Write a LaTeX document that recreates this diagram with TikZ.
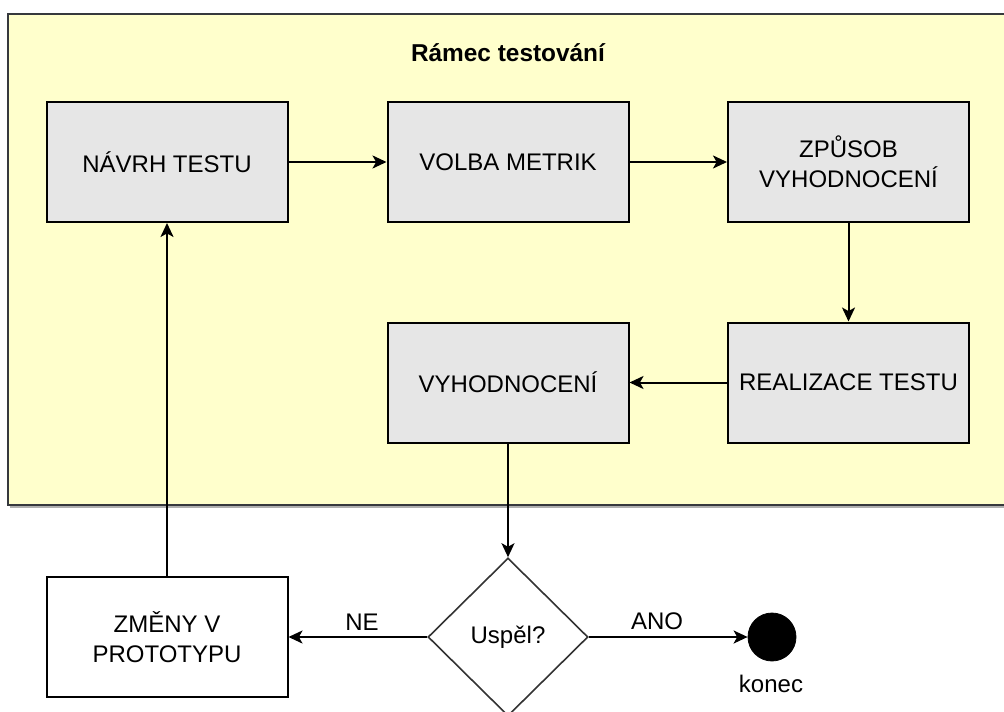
\documentclass[tikz,border=0pt]{standalone}
\usepackage{fontspec}
\setmainfont{Liberation Sans}
\usetikzlibrary{arrows.meta,shapes.geometric}

\definecolor{framefill}{HTML}{FFFFCC}
\definecolor{frameline}{HTML}{36393D}
\definecolor{boxfill}{HTML}{E6E6E6}
\definecolor{shadowgray}{HTML}{B0B0B0}

\tikzset{
  lbl/.style={font=\fontsize{12}{15}\selectfont, text=black, inner sep=0pt},
  procbox/.style={lbl, draw=black, line width=1pt, fill=boxfill,
    minimum width=120.5pt, minimum height=60pt, align=center},
  whitebox/.style={procbox, fill=white},
  decision/.style={lbl, draw=black!80, line width=0.8pt, fill=white, shape=diamond,
    aspect=1, minimum width=80pt, minimum height=79pt},
  endpoint/.style={circle, fill=black, draw=black, minimum size=24pt, inner sep=0pt},
  arr/.style={draw=black, line width=1pt, -{Stealth[length=7pt,width=6.5pt,inset=1.8pt]}}
}

\begin{document}
\begin{tikzpicture}[x=0.5pt, y=-0.5pt]
\useasboundingbox (0,0) rectangle (1004,711);

% testing frame (runs off the right edge) with a soft drop shadow
\fill[shadowgray] (10,16) rectangle (1012,508);
\draw[fill=framefill, draw=frameline, line width=1.1pt] (8,14) rectangle (1010,505);
\node[lbl, font=\fontsize{12.2}{15}\selectfont\bfseries] (title) at (508,53) {Rámec testování};

% process steps inside the frame
\node[procbox] (navrh)  at (167,162)   {NÁVRH TESTU};
\node[procbox] (volba)  at (508,162)   {VOLBA METRIK};
\node[procbox] (zpusob) at (848.5,162) {ZPŮSOB\\VYHODNOCENÍ};
\node[procbox] (realiz) at (848.5,382.5) {REALIZACE TESTU};
\node[procbox] (vyhod)  at (508,382.5) {VYHODNOCENÍ};

% outside the frame
\node[whitebox] (zmeny) at (167,637) {ZMĚNY V\\PROTOTYPU};
\node[decision] (dec) at (508,637) {Uspěl?};
\node[endpoint] (konec) at (772,637) {};
\node[lbl] (koneclbl) at (771,684) {konec};

% connectors
\draw[arr] (navrh) -- (volba);
\draw[arr] (volba) -- (zpusob);
\draw[arr] (zpusob) -- (realiz);
\draw[arr] (realiz) -- (vyhod);
\draw[arr] (vyhod) -- (dec);
\draw[arr] (dec.west) -- (zmeny.east);
\draw[arr] (dec.east) -- (konec.west);
\draw[arr] (zmeny.north) -- (navrh.south);

% branch labels
\node[lbl] (ne)  at (362,622) {NE};
\node[lbl] (ano) at (657,621) {ANO};
\end{tikzpicture}
\end{document}
